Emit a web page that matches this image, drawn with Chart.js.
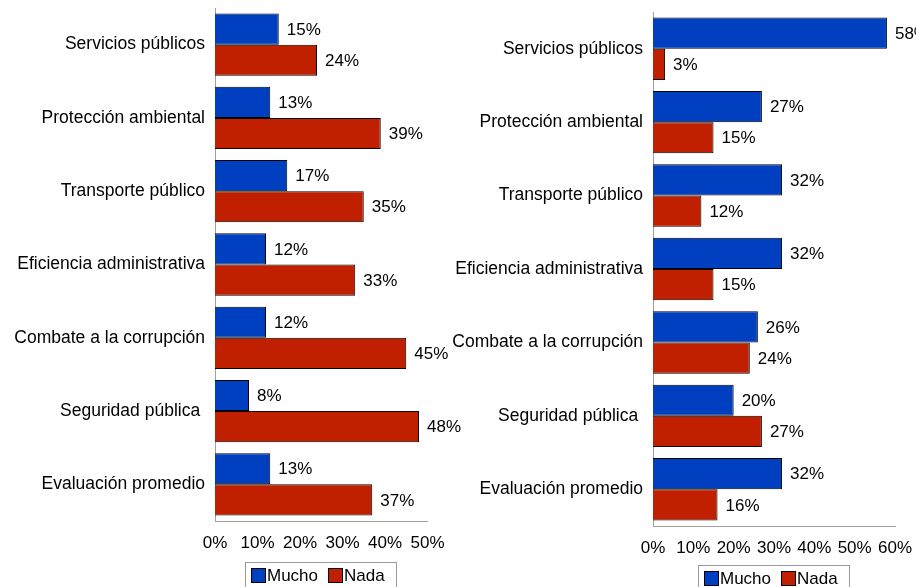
<!DOCTYPE html>
<html>
<head>
<meta charset="utf-8">
<script src="https://cdn.jsdelivr.net/npm/chart.js@4.4.1/dist/chart.umd.min.js"></script>
<style>
    body { margin: 0; background: #fff; }
    #wrap { position: relative; width: 916px; height: 587px; overflow: hidden; font-family: "Liberation Sans", Arial, sans-serif; }
    .box { position: absolute; top: 0; }
    .legend {
        position: absolute;
        border: 1px solid #999;
        display: flex;
        align-items: center;
        font-size: 17px;
        color: #000;
        height: 27px;
        padding: 0 5px;
        box-sizing: border-box;
    }
    .legend .sw { display: inline-block; width: 15px; height: 15px; border: 1px solid #000; box-sizing: border-box; margin-right: 1px; }
    .legend .item { display: flex; align-items: center; margin-right: 10px; }
    .legend .item:last-child { margin-right: 0; }
</style>
</head>
<body>
<div id="wrap">
    <div class="box" style="left:0;width:470px;height:587px;"><canvas id="leftChart" width="470" height="587"></canvas></div>
    <div class="box" style="left:440px;width:476px;height:587px;"><canvas id="rightChart" width="476" height="587"></canvas></div>
    <div class="legend" style="left:245px;top:562px;width:152px;">
        <span class="item"><span class="sw" style="background:#0040C0"></span>Mucho</span>
        <span class="item"><span class="sw" style="background:#C02000"></span>Nada</span>
    </div>
    <div class="legend" style="left:698px;top:565px;width:152px;">
        <span class="item"><span class="sw" style="background:#0040C0"></span>Mucho</span>
        <span class="item"><span class="sw" style="background:#C02000"></span>Nada</span>
    </div>
</div>
<script>
const categories = [
    'Servicios públicos',
    'Protección ambiental',
    'Transporte público',
    'Eficiencia administrativa',
    'Combate a la corrupción',
    'Seguridad pública ',
    'Evaluación promedio'
];

const leftMucho = [15, 13, 17, 12, 12, 8, 13];
const leftNada = [24, 39, 35, 33, 45, 48, 37];

const rightMucho = [58, 27, 32, 32, 26, 20, 32];
const rightNada = [3, 15, 12, 15, 24, 27, 16];

const leftTicks = [0, 10, 20, 30, 40, 50];
const rightTicks = [0, 10, 20, 30, 40, 50, 60];

const BLUE = '#0040C0';
const RED = '#C02000';
const AXIS = '#a0a0a0';
const FAMILY = '"Liberation Sans", Arial, sans-serif';
const FONT = { family: FAMILY, size: 17 };
const CAT_FONT = { family: FAMILY, size: 17.5 };

Chart.defaults.color = '#000';

// draws "15%" style labels to the right of each bar
const valueLabels = {
    id: 'valueLabels',
    afterDatasetsDraw(chart) {
        const ctx = chart.ctx;
        ctx.save();
        ctx.font = `${FONT.size}px ${FONT.family}`;
        ctx.fillStyle = '#000';
        ctx.textAlign = 'left';
        ctx.textBaseline = 'middle';
        chart.data.datasets.forEach((ds, i) => {
            chart.getDatasetMeta(i).data.forEach((bar, j) => {
                ctx.fillText(ds.data[j] + '%', bar.x + 8, bar.y + 1);
            });
        });
        ctx.restore();
    }
};

function makeChart(id, mucho, nada, ticks, opts) {
    return new Chart(document.getElementById(id), {
        type: 'bar',
        data: {
            labels: categories,
            datasets: [
                { label: 'Mucho', data: mucho, backgroundColor: BLUE, borderColor: '#000', borderWidth: 1 },
                { label: 'Nada', data: nada, backgroundColor: RED, borderColor: '#000', borderWidth: 1 }
            ]
        },
        options: {
            indexAxis: 'y',
            responsive: false,
            animation: false,
            layout: { padding: { top: opts.top, right: opts.right, bottom: opts.bottom, left: 0 } },
            datasets: { bar: { categoryPercentage: 0.85, barPercentage: 1 } },
            scales: {
                x: {
                    min: 0,
                    max: ticks[ticks.length - 1],
                    afterBuildTicks: (scale) => { scale.ticks = ticks.map(v => ({ value: v })); },
                    afterFit: (scale) => {
                        scale.height = 30;
                        scale.paddingLeft = 0;
                        scale.paddingRight = 0;
                    },
                    grid: { display: false, drawTicks: false },
                    border: { color: AXIS, width: 1 },
                    ticks: { font: FONT, padding: 12, callback: v => v + '%', maxRotation: 0, autoSkip: false }
                },
                y: {
                    afterFit: (scale) => {
                        scale.width = opts.axisX;
                        scale.paddingTop = 0;
                        scale.paddingBottom = 0;
                    },
                    grid: { display: false, drawTicks: false },
                    border: { color: AXIS, width: 1 },
                    ticks: { font: CAT_FONT, padding: 10 }
                }
            },
            plugins: {
                legend: { display: false },
                tooltip: { enabled: false }
            }
        },
        plugins: [valueLabels]
    });
}

makeChart('leftChart', leftMucho, leftNada, leftTicks, { top: 8, right: 42.5, bottom: 36, axisX: 215 });
makeChart('rightChart', rightMucho, rightNada, rightTicks, { top: 12, right: 21, bottom: 31, axisX: 213 });
</script>
</body>
</html>
